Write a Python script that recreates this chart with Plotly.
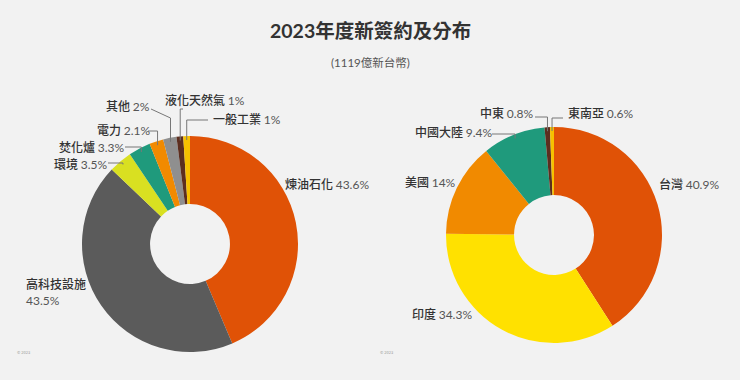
import math
import plotly.graph_objects as go

# Left chart: by sector
sector_labels = ["煉油石化", "高科技設施", "環境", "焚化爐", "電力", "其他", "液化天然氣", "一般工業"]
sector_values = [43.6, 43.5, 3.5, 3.3, 2.1, 2, 1, 1]
sector_colors = ["#e05206", "#5b5b5b", "#d9e021", "#1f9a7c", "#f18a00", "#8f8f8f", "#5c2e1f", "#f6c100"]

# Right chart: by region
region_labels = ["台灣", "印度", "美國", "中國大陸", "中東", "東南亞"]
region_values = [40.9, 34.3, 14, 9.4, 0.8, 0.6]
region_colors = ["#e05206", "#ffe100", "#f18a00", "#1f9a7c", "#5c2e1f", "#f6c100"]

title_text = "2023年度新簽約及分布"
subtitle_text = "(1119億新台幣)"

# ---- layout / style (pixels in a 740x380 canvas) ----
W, H = 740, 380
CJK = "Noto Sans CJK TC"
NUM = "Lato"
LEFT = dict(cx=190, cy=244, r=108)
RIGHT = dict(cx=554, cy=235, r=108)
HOLE = 0.37

# label placement: (x, y, xanchor, line start (x, y) or None)
LEFT_PLACE = {
    "煉油石化": (283, 183, "left", None),
    "高科技設施": (24, 291, "left", None),
    "環境": (52, 163, "left", (108, 163)),
    "焚化爐": (57, 146, "left", (125, 147)),
    "電力": (95, 129, "left", (148, 131)),
    "其他": (104, 105, "left", (151, 109)),
    "液化天然氣": (163, 100, "left", (183, 109)),
    "一般工業": (211, 118, "left", (208, 120)),
}
RIGHT_PLACE = {
    "台灣": (657, 183, "left", None),
    "印度": (410, 313, "left", None),
    "美國": (403, 182, "left", None),
    "中國大陸": (413, 131, "left", (492, 134)),
    "中東": (478, 112, "left", (535, 117)),
    "東南亞": (566, 112, "left", (563, 118)),
}
KNEE_Y = {"其他": 118}


def px(x):
    return x / W


def py(y):
    return 1 - y / H


def domain(g):
    return dict(x=[px(g["cx"] - g["r"]), px(g["cx"] + g["r"])],
                y=[py(g["cy"] + g["r"]), py(g["cy"] - g["r"])])


def fmt(v):
    return f"{v:g}%"


fig = go.Figure()
for labels, values, colors, g in [(sector_labels, sector_values, sector_colors, LEFT),
                                  (region_labels, region_values, region_colors, RIGHT)]:
    fig.add_trace(go.Pie(
        labels=labels, values=values,
        textinfo="none",
        marker=dict(colors=colors, line=dict(width=0)),
        hole=HOLE, sort=False, direction="clockwise", rotation=0,
        domain=domain(g), showlegend=False,
    ))

annotations = [
    dict(text=f"<b>{title_text}</b>", x=0.5, y=py(30), xref="paper", yref="paper",
         showarrow=False, font=dict(size=19.5, color="#333", family="Lato, " + CJK),
         xanchor="center", yanchor="middle"),
    dict(text=subtitle_text, x=0.5, y=py(62), xref="paper", yref="paper",
         showarrow=False, font=dict(size=11.5, color="#555", family="Lato, " + CJK),
         xanchor="center", yanchor="middle"),
    dict(text="© 2023", x=px(15), y=py(352), xref="paper", yref="paper",
         showarrow=False, font=dict(size=4, color="#999"), xanchor="left", yanchor="middle"),
    dict(text="© 2023", x=px(378), y=py(352), xref="paper", yref="paper",
         showarrow=False, font=dict(size=4, color="#999"), xanchor="left", yanchor="middle"),
]
shapes = []

for labels, values, g, place in [(sector_labels, sector_values, LEFT, LEFT_PLACE),
                                 (region_labels, region_values, RIGHT, RIGHT_PLACE)]:
    total = sum(values)
    cum = 0.0
    for lab, v in zip(labels, values):
        mid = (cum + v / 2) / total * 2 * math.pi
        cum += v
        x, y, anchor, start = place[lab]
        sep = "<br>" if lab == "高科技設施" else " "
        txt = (f"{lab}{sep}<span style='font-family:{NUM};font-weight:400;color:#555'>"
               f"{fmt(v)}</span>")
        annotations.append(dict(text=txt, x=px(x), y=py(y), xref="paper", yref="paper",
                                showarrow=False, xanchor=anchor, yanchor="middle", align="left",
                                font=dict(size=12, color="#333", family=CJK, weight=500)))
        if start is not None:
            rr = g["r"] - 4
            tx = g["cx"] + rr * math.sin(mid)
            ty = g["cy"] - rr * math.cos(mid)
            ky = KNEE_Y.get(lab, start[1])
            path = f"M {px(start[0])} {py(start[1])} L {px(tx)} {py(ky)} L {px(tx)} {py(ty)}"
            shapes.append(dict(type="path", path=path, xref="paper", yref="paper",
                               line=dict(color="#777", width=1)))

fig.update_layout(
    width=W, height=H,
    margin=dict(l=0, r=0, t=0, b=0),
    paper_bgcolor="#f2f2f2", plot_bgcolor="#f2f2f2",
    font=dict(family=CJK, color="#333"),
    annotations=annotations, shapes=shapes,
)

fig.write_html("out.html", config={"displayModeBar": False},
               post_script="document.body.style.margin='0';document.body.style.background='#f2f2f2';")
